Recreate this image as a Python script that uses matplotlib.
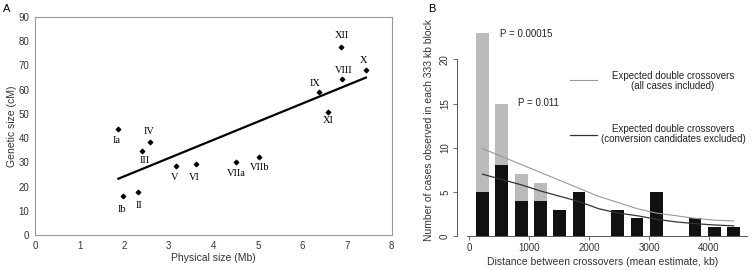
import numpy as np
import matplotlib
matplotlib.use("Agg")
import matplotlib.pyplot as plt

plt.rcParams['font.family'] = ['Liberation Sans', 'DejaVu Sans']

# Panel A: chromosome physical vs genetic size
chrom_names = ['Ia', 'Ib', 'II', 'III', 'IV', 'V', 'VI', 'VIIa', 'VIIb',
               'IX', 'XI', 'XII', 'VIII', 'X']
phys_mb = [1.87, 1.97, 2.31, 2.40, 2.58, 3.16, 3.61, 4.51, 5.03,
           6.38, 6.57, 6.86, 6.89, 7.42]
gen_cm = [43.8, 16.1, 17.9, 34.8, 38.3, 28.5, 29.3, 30.0, 32.4,
          59.1, 50.8, 77.7, 64.6, 68.2]

# Panel B: double crossover distances, 333 kb blocks
block_kb = [225, 547, 869, 1191, 1513, 1835, 2479, 2801, 3123, 3767, 4089, 4411]
n_excl = [5, 8, 4, 4, 3, 5, 3, 2, 5, 2, 1, 1]      # conversion candidates excluded
n_all = [23, 15, 7, 6, 3, 5, 3, 2, 5, 2, 1, 1]     # all cases included

curve_kb = [225, 547, 869, 1191, 1513, 1835, 2157, 2479, 2801, 3123,
            3445, 3767, 4089, 4411]
exp_all = [9.9, 9.0, 8.1, 7.2, 6.3, 5.4, 4.5, 3.8, 3.1, 2.6, 2.3, 2.0, 1.8, 1.7]
exp_excl = [7.0, 6.4, 5.8, 5.1, 4.5, 3.9, 3.1, 2.6, 2.3, 1.9, 1.6, 1.4, 1.25, 1.15]

# label offsets (points) for panel A
label_off = {'Ia': (-1, -8), 'Ib': (-1, -10), 'II': (1, -10), 'III': (2, -7),
             'IV': (-1, 8), 'V': (-1, -8), 'VI': (-1, -10), 'VIIa': (0, -8),
             'VIIb': (0, -8), 'IX': (-3, 6), 'XI': (0, -6), 'XII': (1, 8),
             'VIII': (1, 6), 'X': (-2, 7)}

fig = plt.figure(figsize=(7.54, 2.70), dpi=100)

# ---------------- A ----------------
axA = fig.add_axes([0.0464, 0.1296, 0.4731, 0.8074])
axA.scatter(phys_mb, gen_cm, marker='D', s=5, color='black', zorder=3)
slope, icpt = np.polyfit(phys_mb, gen_cm, 1)
xs = np.array([min(phys_mb), max(phys_mb)])
axA.plot(xs, slope * xs + icpt, color='black', lw=1.6)
for name, x, y in zip(chrom_names, phys_mb, gen_cm):
    dx, dy = label_off[name]
    axA.annotate(name, (x, y), xytext=(dx, dy), textcoords='offset points',
                 ha='center', va='center', fontsize=7.5, family='Liberation Serif')
axA.set_xlim(0, 8)
axA.set_ylim(0, 90)
axA.set_xticks(range(0, 9))
axA.set_yticks(range(0, 91, 10))
for s in axA.spines.values():
    s.set_color('#999999')
    s.set_linewidth(0.8)
axA.tick_params(length=0, labelsize=7, colors='#333333', pad=4)
axA.set_xlabel('Physical size (Mb)', fontsize=7.5, color='#333333', labelpad=2)
axA.set_ylabel('Genetic size (cM)', fontsize=7.5, color='#333333', labelpad=1)
fig.text(0.004, 0.968, 'A', fontsize=8, va='center')

# ---------------- B ----------------
axB = fig.add_axes([0.6061, 0.1259, 0.386, 0.7848])
width = 212
axB.bar(block_kb, n_excl, width=width, color='#111111', zorder=2)
axB.bar(block_kb, np.array(n_all) - np.array(n_excl), bottom=n_excl,
        width=width, color='#bbbbbb', zorder=2)
axB.plot(curve_kb, exp_all, color='#999999', lw=0.8, zorder=3)
axB.plot(curve_kb, exp_excl, color='#333333', lw=0.9, zorder=3)

axB.set_xlim(-200, 4650)
axB.set_ylim(0, 24)
axB.spines['top'].set_visible(False)
axB.spines['right'].set_visible(False)
axB.spines['left'].set_bounds(0, 20)
axB.spines['bottom'].set_bounds(-30, 4630)
for s in ('left', 'bottom'):
    axB.spines[s].set_color('#555555')
    axB.spines[s].set_linewidth(0.7)
axB.set_xticks([0, 1000, 2000, 3000, 4000])
axB.set_yticks([0, 5, 10, 15, 20])
axB.tick_params(length=3, width=0.6, colors='#555555', labelsize=7,
                labelcolor='#333333', pad=2)
plt.setp(axB.get_yticklabels(), rotation=90, va='center')
axB.set_xlabel('Distance between crossovers (mean estimate, kb)', fontsize=7.5,
               color='#333333', labelpad=3)
axB.set_ylabel('Number of cases observed in each 333 kb block', fontsize=7.5,
               color='#333333', labelpad=4)

axB.text(517, 22.9, 'P = 0.00015', fontsize=7, va='center', color='#222222')
axB.text(817, 15.06, 'P = 0.011', fontsize=7, va='center', color='#222222')

axB.plot([1683, 2133], [17.7, 17.7], color='#999999', lw=0.8)
axB.text(3400, 17.5, 'Expected double crossovers\n(all cases included)',
         ha='center', va='center', multialignment='center', fontsize=7,
         linespacing=1.0, color='#222222')
axB.plot([1683, 2133], [11.4, 11.4], color='#333333', lw=0.9)
axB.text(3400, 11.55, 'Expected double crossovers\n(conversion candidates excluded)',
         ha='center', va='center', multialignment='center', fontsize=7,
         linespacing=1.0, color='#222222')
fig.text(0.568, 0.968, 'B', fontsize=8, va='center')

fig.savefig('out.png', dpi=100)
